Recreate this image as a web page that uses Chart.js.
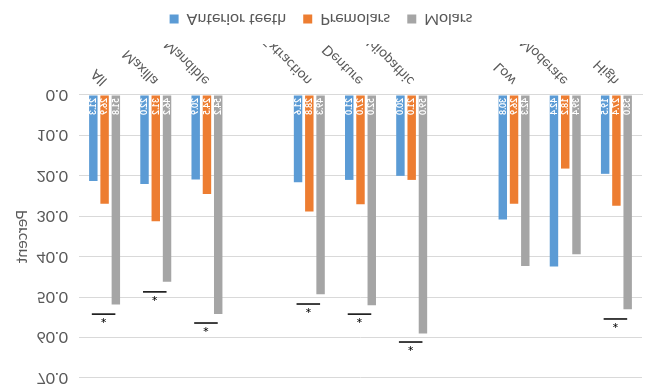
<!DOCTYPE html>
<html>
<head>
<meta charset="utf-8">
<script src="https://cdn.jsdelivr.net/npm/chart.js@4.4.1/dist/chart.umd.min.js"></script>
<style>
  html, body { margin: 0; padding: 0; background: #fff; }
  #wrap { width: 661px; height: 390px; transform: scaleY(-1); }
</style>
</head>
<body>
<div id="wrap"><canvas id="grafico" width="661" height="390"></canvas></div>
<script>
const categorias = ["All", "Maxilla", "Mandible", "", "Extraction", "Denture", "Idiopathic", "", "Low", "Moderate", "High"];
const anteriores = [21.3, 22.0, 20.9, null, 21.6, 21.0, 20.0, null, 30.8, 42.4, 19.5];
const premolares = [26.9, 31.2, 24.5, null, 28.8, 27.0, 21.0, null, 26.9, 18.2, 27.4];
const molares = [51.8, 46.2, 54.2, null, 49.3, 52.0, 59.0, null, 42.3, 39.4, 53.0];
// altura das linhas de significancia (*), em percentual
const significancia = [54.2, 48.7, 56.4, null, 51.7, 54.2, 61.1, null, null, null, 55.4];
const ticksY = [0, 10, 20, 30, 40, 50, 60, 70];

const fonte = "Lato, 'Open Sans', sans-serif";

// rotulos brancos dentro da base das barras
const rotulosBarras = {
    id: "rotulosBarras",
    afterDatasetsDraw(chart) {
        const ctx = chart.ctx;
        const base = chart.scales.y.getPixelForValue(0);
        ctx.save();
        ctx.fillStyle = "#ffffff";
        ctx.font = "bold 8.5px " + fonte;
        ctx.textAlign = "left";
        ctx.textBaseline = "middle";
        chart.data.datasets.forEach((ds, i) => {
            chart.getDatasetMeta(i).data.forEach((barra, j) => {
                const v = ds.data[j];
                if (v === null) return;
                ctx.save();
                ctx.translate(barra.x, base - 3);
                ctx.rotate(-Math.PI / 2);
                ctx.fillText(v.toFixed(1), 0, 0);
                ctx.restore();
            });
        });
        ctx.restore();
    }
};

// linhas com asterisco acima das barras dos molares
const marcasSignificancia = {
    id: "marcasSignificancia",
    afterDatasetsDraw(chart) {
        const ctx = chart.ctx;
        const x = chart.scales.x;
        const y = chart.scales.y;
        const largura = (x.getPixelForValue(1) - x.getPixelForValue(0)) * 0.23;
        ctx.save();
        ctx.strokeStyle = "#000000";
        ctx.fillStyle = "#000000";
        ctx.lineWidth = 1.5;
        ctx.font = "16px " + fonte;
        ctx.textAlign = "center";
        ctx.textBaseline = "middle";
        significancia.forEach((v, i) => {
            if (v === null) return;
            const cx = x.getPixelForValue(i) - 1;
            const cy = y.getPixelForValue(v);
            ctx.beginPath();
            ctx.moveTo(cx - largura, cy);
            ctx.lineTo(cx + largura, cy);
            ctx.stroke();
            ctx.fillText("*", cx, cy - 3);
        });
        ctx.restore();
    }
};

new Chart(document.getElementById("grafico"), {
    type: "bar",
    data: {
        labels: categorias,
        datasets: [
            { label: "Anterior teeth", data: anteriores, backgroundColor: "#5B9BD5" },
            { label: "Premolars", data: premolares, backgroundColor: "#ED7D31" },
            { label: "Molars", data: molares, backgroundColor: "#A5A5A5" }
        ]
    },
    options: {
        responsive: false,
        animation: false,
        categoryPercentage: 0.66,
        barPercentage: 0.75,
        layout: {
            padding: { top: 12, right: 19, bottom: 1, left: 0 }
        },
        plugins: {
            tooltip: { enabled: false },
            legend: {
                position: "bottom",
                labels: {
                    boxWidth: 9,
                    boxHeight: 9,
                    padding: 17,
                    color: "#595959",
                    font: { family: fonte, size: 16 }
                }
            }
        },
        scales: {
            x: {
                grid: { display: false, drawTicks: false },
                border: { display: true, color: "#D9D9D9" },
                ticks: {
                    minRotation: 45,
                    maxRotation: 45,
                    autoSkip: false,
                    padding: 6,
                    color: "#595959",
                    font: { family: fonte, size: 14 }
                },
                afterFit(scale) { scale.height = 51; }
            },
            y: {
                min: 0,
                max: 70,
                afterBuildTicks(scale) { scale.ticks = ticksY.map(v => ({ value: v })); },
                grid: { color: "#D9D9D9", drawTicks: false },
                border: { display: false },
                ticks: {
                    padding: 11,
                    color: "#595959",
                    font: { family: fonte, size: 16 },
                    callback: (v) => Number(v).toFixed(1)
                },
                title: {
                    display: true,
                    text: "Percent",
                    color: "#595959",
                    font: { family: fonte, size: 16 },
                    padding: { top: 12, bottom: 0 }
                },
                afterFit(scale) {
                    scale.width = 79;
                    scale.paddingTop = 0;
                    scale.paddingBottom = 0;
                }
            }
        }
    },
    plugins: [rotulosBarras, marcasSignificancia]
});
</script>
</body>
</html>
